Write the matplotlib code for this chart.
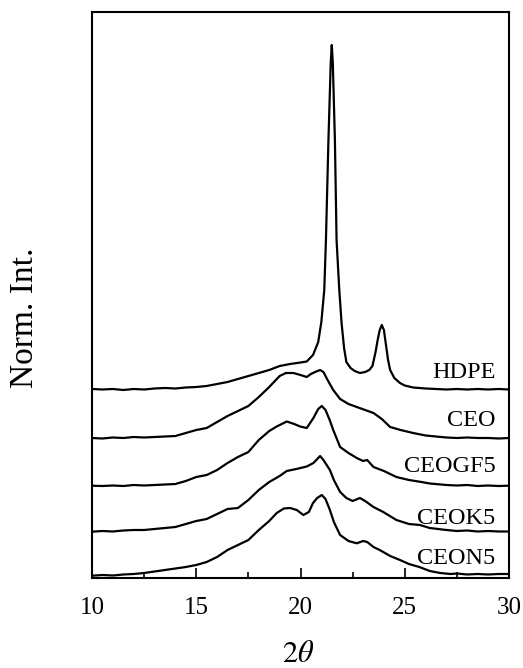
import matplotlib
matplotlib.use("Agg")
import matplotlib.pyplot as plt
from matplotlib.ticker import MultipleLocator

plt.rcParams["font.family"] = "Liberation Serif"
plt.rcParams["mathtext.fontset"] = "stix"

# XRD patterns, stacked (arbitrary intensity units)
hdpe_x = [10, 10.5, 11, 11.5, 12, 12.5, 13, 13.5, 14, 14.5, 15, 15.5, 16, 16.5, 17, 17.5,
          18, 18.5, 19, 19.5, 20, 20.3, 20.6, 20.85, 21.0, 21.14, 21.22, 21.34, 21.45, 21.5,
          21.55, 21.65, 21.73, 21.86, 21.97, 22.09, 22.2, 22.4, 22.6, 22.85, 23.1, 23.3,
          23.45, 23.6, 23.7, 23.8, 23.9, 24.0, 24.1, 24.2, 24.3, 24.5, 24.77, 25, 25.4, 26,
          26.5, 27, 27.5, 28, 28.5, 29, 29.5, 30]
hdpe_y = [189, 188.5, 189, 188, 189, 188.5, 189.5, 190, 189.5, 190.5, 191, 192, 194, 196,
          199, 202, 205, 208, 212, 214, 215.5, 216.5, 223, 236, 256, 288, 338, 438, 515, 533,
          515, 438, 338, 288, 255, 230, 216, 210, 207, 205, 206, 208, 212, 226, 238, 248,
          253, 248, 233, 218, 208, 200, 195, 192.5, 190.5, 189.5, 189, 188.5, 189, 188.5,
          189, 188.5, 189, 188.5]

ceo_x = [10, 10.5, 11, 11.5, 12, 12.5, 13, 13.5, 14, 14.5, 15, 15.5, 16, 16.5, 17, 17.5,
         18, 18.5, 19, 19.3, 19.66, 20, 20.3, 20.5, 20.7, 20.94, 21.1, 21.3, 21.57, 21.9,
         22.3, 22.7, 23.1, 23.5, 23.9, 24.3, 24.8, 25.4, 26, 26.5, 27, 27.5, 28, 28.5, 29,
         29.5, 30]
ceo_y = [140, 139.5, 140.5, 140, 141, 140.5, 141, 141.5, 142, 145, 148, 150, 156, 162, 167,
         172, 181, 191, 202, 205, 205, 203, 201, 204, 206, 208, 206, 198, 188, 179, 174,
         171, 168, 165, 159, 151, 148, 145, 142.5, 141.5, 140.5, 140, 140.5, 140, 140,
         139.5, 140]

ceogf5_x = [10, 10.5, 11, 11.5, 12, 12.5, 13, 13.5, 14, 14.5, 15, 15.5, 16, 16.5, 17, 17.5,
            18, 18.5, 18.86, 19.34, 19.7, 19.98, 20.3, 20.62, 20.85, 21.02, 21.2, 21.4,
            21.57, 21.9, 22.3, 22.7, 23.0, 23.2, 23.5, 24, 24.6, 25.2, 25.8, 26.2, 27, 27.5,
            28, 28.5, 29, 29.5, 30]
ceogf5_y = [92.3, 92, 92.5, 92, 93, 92.5, 93, 93.5, 94, 97, 101, 103, 108, 115, 121, 126,
            138, 147, 151.5, 156.5, 154, 151.5, 150, 160, 169, 172, 168, 158, 148, 131, 125,
            120, 117, 118, 111, 107, 101, 98, 96, 94.5, 93, 92.5, 93, 92, 92.5, 92, 92.3]

ceok5_x = [10, 10.5, 11, 11.5, 12, 12.5, 13, 13.5, 14, 14.5, 15, 15.5, 16, 16.5, 17, 17.5,
           18, 18.5, 19, 19.34, 19.8, 20.3, 20.62, 20.94, 21.1, 21.41, 21.6, 21.9, 22.2,
           22.5, 22.85, 23.1, 23.5, 23.97, 24.6, 25.2, 25.73, 26.2, 27, 27.5, 28, 28.5, 29,
           29.5, 30]
ceok5_y = [46.3, 47, 46.5, 47.5, 48, 48, 49, 50, 51, 54, 57, 59, 64, 69, 70, 78, 88, 96,
           102, 107, 109, 111.5, 115, 122, 118, 108, 98, 86, 80, 77, 80, 77, 71, 66, 58,
           54, 53, 50, 48, 47, 47.5, 46.5, 47, 46.5, 46.5]

ceon5_x = [10, 10.5, 11, 11.5, 12, 12.5, 13, 13.5, 14, 14.5, 15, 15.5, 16, 16.5, 17, 17.5,
           18, 18.5, 18.86, 19.2, 19.5, 19.82, 20.14, 20.4, 20.6, 20.8, 21.02, 21.2, 21.41,
           21.6, 21.9, 22.3, 22.7, 23.0, 23.2, 23.5, 23.8, 24.3, 24.77, 25.2, 25.7, 26.2,
           26.7, 27.2, 27.5, 28, 28.5, 29, 29.5, 30]
ceon5_y = [2.3, 3, 2.5, 3.5, 4, 5, 6.5, 8, 9.5, 11, 13, 16, 21, 28, 33, 38, 48, 57, 65,
           69.5, 70, 68, 63, 66, 75, 80, 83, 79, 68, 56, 43, 37, 34.7, 37, 36, 31, 28, 22,
           18, 14, 11, 7, 5, 4, 4.5, 3.5, 4, 3.5, 4, 4]

names = ["HDPE", "CEO", "CEOGF5", "CEOK5", "CEON5"]
label_y = [205, 158, 111, 60, 20]

fig = plt.figure(figsize=(5.23, 6.68), dpi=100)
ax = fig.add_axes([92 / 523, 90 / 668, 417 / 523, 566 / 668])

series = [(hdpe_x, hdpe_y), (ceo_x, ceo_y), (ceogf5_x, ceogf5_y),
          (ceok5_x, ceok5_y), (ceon5_x, ceon5_y)]
for (xs, ys), name, ly in zip(series, names, label_y):
    ax.plot(xs, ys, color="black", lw=1.6)
    ax.text(29.35, ly, name, ha="right", va="center", fontsize=17.5)

ax.set_xlim(10, 30)
ax.set_ylim(0, 566)
ax.xaxis.set_major_locator(MultipleLocator(5))
ax.xaxis.set_minor_locator(MultipleLocator(2.5))
ax.tick_params(axis="x", which="major", direction="in", length=7, width=1.2,
               labelsize=18, pad=14)
ax.tick_params(axis="x", which="minor", direction="in", length=4, width=1.2)
ax.set_yticks([])
for s in ax.spines.values():
    s.set_linewidth(1.5)

fig.text(298 / 523, 1 - 655 / 668, r"$2\theta$", ha="center", va="center", fontsize=22)
fig.text(25 / 523, 1 - 318 / 668, "Norm. Int.", rotation=90, ha="center", va="center",
         fontsize=24)

fig.savefig("out.png", dpi=100)
